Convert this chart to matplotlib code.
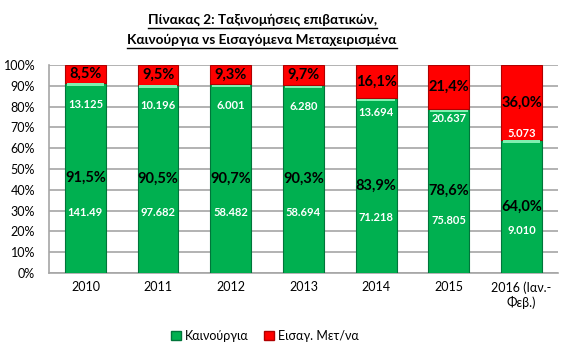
import matplotlib
matplotlib.use('Agg')
import matplotlib.pyplot as plt
from matplotlib.patches import Patch

plt.rcParams['font.family'] = ['Lato', 'Open Sans', 'DejaVu Sans']

years = ['2010', '2011', '2012', '2013', '2014', '2015', '2016 (Ιαν.-\nΦεβ.)']
new_pct = [91.5, 90.5, 90.7, 90.3, 83.9, 78.6, 64.0]
used_pct = [8.5, 9.5, 9.3, 9.7, 16.1, 21.4, 36.0]
new_count = ['141.49', '97.682', '58.482', '58.694', '71.218', '75.805', '9.010']
used_count = ['13.125', '10.196', '6.001', '6.280', '13.694', '20.637', '5.073']

green = '#00B050'
red = '#FF0000'

fig = plt.figure(figsize=(5.71, 3.55), dpi=100)
ax = fig.add_axes([0.086, 0.231, 0.891, 0.586])

x = range(len(years))
w = 0.56
ax.bar(x, new_pct, w, color=green, edgecolor='#00753a', linewidth=0.8, zorder=3)
ax.bar(x, used_pct, w, bottom=new_pct, color=red, edgecolor='#b00000', linewidth=0.8, zorder=3)
# light bevel on top of green bars
ax.bar(x, [1.2] * len(years), w * 0.92, bottom=[g - 1.4 for g in new_pct],
       color='#7ff0b0', linewidth=0, zorder=4)

def fmt(v):
    return f'{v:.1f}'.replace('.', ',') + '%'

for i in x:
    g = new_pct[i]
    r = used_pct[i]
    ax.text(i, g / 2, fmt(g), ha='center', va='center', fontsize=10.5,
            fontweight='bold', color='black', zorder=5)
    ax.text(i, g * 0.32, new_count[i], ha='center', va='center', fontsize=8,
            fontweight='bold', color='white', zorder=5)
    ax.text(i, g + r / 2, fmt(r), ha='center', va='center', fontsize=10.5,
            fontweight='bold', color='black', zorder=5)
    ax.text(i, 0.51 * g + 34.2, used_count[i], ha='center', va='center', fontsize=8,
            fontweight='bold', color='white', zorder=5)

ax.set_xlim(-0.5, len(years) - 0.5)
ax.set_ylim(0, 100)
ax.set_yticks(range(0, 101, 10))
ax.set_yticklabels([f'{t}%' for t in range(0, 101, 10)], fontsize=9)
ax.set_xticks(list(x))
ax.set_xticklabels(years, fontsize=9)
ax.tick_params(axis='both', length=0, pad=6)
ax.tick_params(axis='y', pad=10)
ax.grid(axis='y', color='#a6a6a6', linewidth=1.2, zorder=0)
for s in ['top', 'right']:
    ax.spines[s].set_visible(False)
ax.spines['left'].set_color('#a6a6a6')
ax.spines['bottom'].set_color('#a6a6a6')
ax.spines['left'].set_linewidth(1.2)
ax.spines['bottom'].set_linewidth(1.2)

t1 = fig.text(0.459, 0.932, 'Πίνακας 2: Ταξινομήσεις επιβατικών,', ha='center', va='baseline',
              fontsize=9.8, fontweight='bold')
t2 = fig.text(0.459, 0.876, 'Καινούργια vs Εισαγόμενα Μεταχειρισμένα', ha='center', va='baseline',
              fontsize=9.8, fontweight='bold')

fig.legend(handles=[Patch(facecolor=green, edgecolor='#00753a', label='Καινούργια'),
                    Patch(facecolor=red, edgecolor='#b00000', label='Εισαγ. Μετ/να')],
           loc='center', bbox_to_anchor=(0.464, 0.054), ncol=2, frameon=False,
           fontsize=9, handlelength=0.8, handleheight=0.8, handletextpad=0.3, columnspacing=1.2)

# underline the title lines
fig.canvas.draw()
r = fig.canvas.get_renderer()
for t in (t1, t2):
    bb = t.get_window_extent(r).transformed(fig.transFigure.inverted())
    y = t.get_position()[1] - 0.012
    fig.add_artist(plt.Line2D([bb.x0, bb.x1], [y, y], color='black', linewidth=1,
                              transform=fig.transFigure))

fig.savefig('out.png', dpi=100)
